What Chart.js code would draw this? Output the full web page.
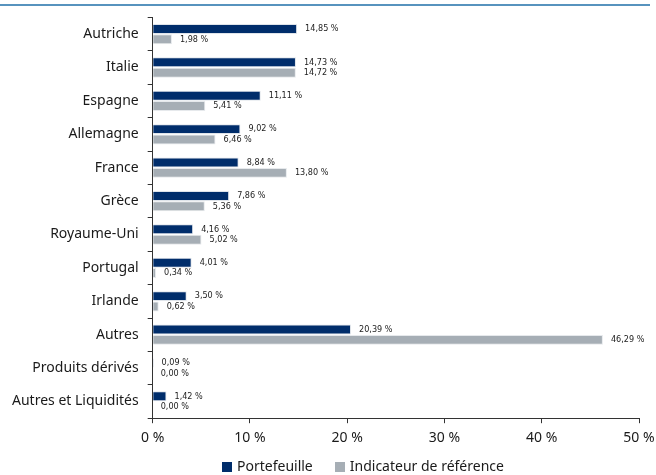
<!DOCTYPE html>
<html lang="fr">
<head>
  <meta charset="UTF-8">
  <title>Répartition par pays</title>
  <style>
    body { margin: 0; background: #fff; }
    #wrap { position: relative; width: 656px; height: 475px; }
    #legend {
      position: absolute; left: 222px; top: 457px;
      font: 14px "Noto Sans", sans-serif; color: #1a1a1a;
      display: flex; gap: 22px; white-space: nowrap; line-height: 18px;
    }
    #legend span.box {
      display: inline-block; width: 10px; height: 10px; margin-right: 5px;
      vertical-align: -1px;
    }
  </style>
</head>
<body>
  <div id="wrap">
    <canvas id="chart" width="656" height="475"></canvas>
    <div id="legend"></div>
  </div>

  <script src="https://cdn.jsdelivr.net/npm/chart.js"></script>
  <script>
    const categories = ['Autriche', 'Italie', 'Espagne', 'Allemagne', 'France', 'Grèce',
      'Royaume-Uni', 'Portugal', 'Irlande', 'Autres', 'Produits dérivés', 'Autres et Liquidités'];
    const portefeuille = [14.85, 14.73, 11.11, 9.02, 8.84, 7.86, 4.16, 4.01, 3.50, 20.39, 0.09, 1.42];
    const reference = [1.98, 14.72, 5.41, 6.46, 13.80, 5.36, 5.02, 0.34, 0.62, 46.29, 0.00, 0.00];
    const xTicks = [0, 10, 20, 30, 40, 50];
    const seriesNames = ['Portefeuille', 'Indicateur de référence'];
    const seriesColors = ['#002d6b', '#a6aeb5'];

    const fmt = v => v.toFixed(2).replace('.', ',') + ' %';

    // value labels at the end of each bar + the thin blue rule at the top
    const extras = {
      id: 'extras',
      beforeDraw(chart) {
        const c = chart.ctx;
        c.save();
        c.strokeStyle = '#1f6fa8';
        c.lineWidth = 1.5;
        c.beginPath();
        c.moveTo(0, 5);
        c.lineTo(650, 5);
        c.stroke();
        c.restore();
      },
      afterDatasetsDraw(chart) {
        const c = chart.ctx;
        c.save();
        c.font = '9px "DejaVu Sans Condensed", "DejaVu Sans", sans-serif';
        c.fillStyle = '#222';
        c.textBaseline = 'middle';
        chart.data.datasets.forEach((ds, i) => {
          chart.getDatasetMeta(i).data.forEach((bar, j) => {
            c.fillText(fmt(ds.data[j]), bar.x + 8, bar.y);
          });
        });
        c.restore();
      }
    };

    const chart = new Chart(document.getElementById('chart'), {
      type: 'bar',
      data: {
        labels: categories,
        datasets: [
          {
            label: seriesNames[0],
            data: portefeuille,
            backgroundColor: seriesColors[0],
            borderColor: '#dfe4ea',
            borderWidth: 1,
            categoryPercentage: 0.62,
            barPercentage: 0.96
          },
          {
            label: seriesNames[1],
            data: reference,
            backgroundColor: seriesColors[1],
            borderColor: '#e6e9ec',
            borderWidth: 1,
            categoryPercentage: 0.62,
            barPercentage: 0.96
          }
        ]
      },
      options: {
        indexAxis: 'y',
        responsive: false,
        animation: false,
        layout: { padding: { top: 13, right: 4, left: 3, bottom: 23 } },
        scales: {
          x: {
            min: 0,
            max: 50,
            afterBuildTicks: axis => { axis.ticks = xTicks.map(v => ({ value: v })); },
            afterFit: axis => { axis.paddingRight = 17; },
            grid: { drawOnChartArea: false, color: '#333', tickLength: 5 },
            border: { color: '#333', width: 1 },
            ticks: {
              color: '#1a1a1a',
              font: { family: 'Noto Sans', size: 14 },
              padding: 6,
              callback: v => v + ' %'
            }
          },
          y: {
            grid: { drawOnChartArea: false, offset: true, color: '#333', tickLength: 5 },
            border: { color: '#333', width: 1 },
            ticks: {
              color: '#1a1a1a',
              font: { family: 'Noto Sans', size: 14 },
              padding: 9
            }
          }
        },
        plugins: {
          legend: { display: false },
          tooltip: { enabled: false }
        }
      },
      plugins: [extras]
    });

    document.getElementById('legend').innerHTML = seriesNames.map((n, i) =>
      '<div><span class="box" style="background:' + seriesColors[i] + '"></span>' + n + '</div>'
    ).join('');
  </script>
</body>
</html>
